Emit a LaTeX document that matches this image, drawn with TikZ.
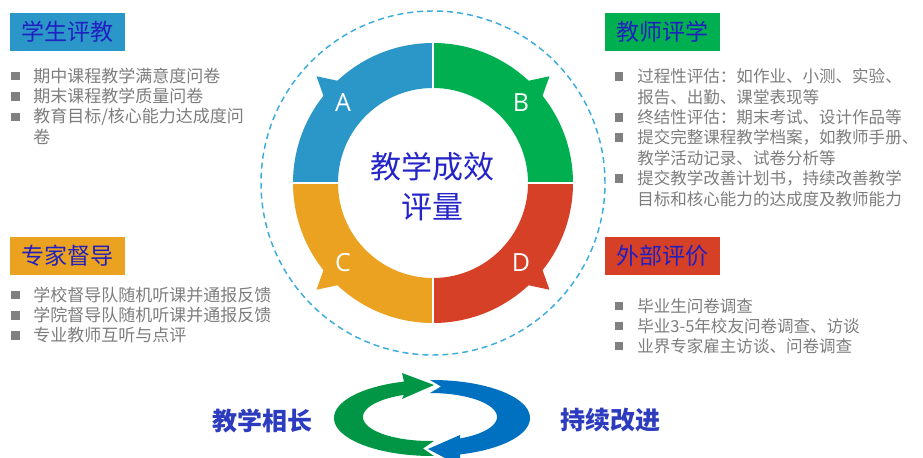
\documentclass[tikz,border=0pt]{standalone}
\usepackage{fontspec}
\setmainfont{Noto Sans CJK SC}
\newfontfamily\latinsans{Open Sans}
\usetikzlibrary{calc}
\definecolor{segA}{RGB}{43,150,200}
\definecolor{segB}{RGB}{0,176,80}
\definecolor{segC}{RGB}{234,162,32}
\definecolor{segD}{RGB}{214,64,38}
\definecolor{hdrtext}{RGB}{32,32,192}
\definecolor{ctrtext}{RGB}{36,36,200}
\definecolor{txtgray}{RGB}{125,125,125}
\definecolor{bulgray}{RGB}{128,128,128}
\definecolor{dashcol}{RGB}{60,172,222}
\definecolor{cycgreen}{RGB}{0,150,70}
\definecolor{cycblue}{RGB}{0,112,192}
\definecolor{bottext}{RGB}{45,60,190}
\tikzset{
  hdr/.style={minimum width=86.25pt, minimum height=28.5pt, inner sep=0pt,
    text=hdrtext, font=\fontsize{17.25pt}{20pt}\selectfont},
  itemtxt/.style={anchor=west, inner sep=0pt, text=txtgray,
    font=\fontsize{12.75pt}{15pt}\selectfont},
  itemtxtr/.style={itemtxt, font=\fontsize{12.4pt}{15pt}\selectfont},
  bul/.style={fill=bulgray, minimum size=6.5pt, inner sep=0pt},
  letter/.style={text=white, font=\latinsans\fontsize{18.75pt}{22pt}\selectfont},
  bottxt/.style={text=bottext, font=\fontsize{18.75pt}{22pt}\selectfont\bfseries}
}
\begin{document}
\begin{tikzpicture}[x=0.75pt,y=0.75pt]
\useasboundingbox (0,0) rectangle (923,457);
\coordinate (c) at (433,274);
% dashed circle
\draw[dashcol, line width=1.1pt, dash pattern=on 4.5pt off 3pt] (c) circle[radius=172];
% ring segments
\fill[segB] ($(c)+(0:140)$) arc[start angle=0, end angle=90, radius=140]
  -- ($(c)+(90:95)$) arc[start angle=90, end angle=0, radius=95] -- cycle;
\fill[segA] ($(c)+(90:140)$) arc[start angle=90, end angle=180, radius=140]
  -- ($(c)+(180:95)$) arc[start angle=180, end angle=90, radius=95] -- cycle;
\fill[segC] ($(c)+(180:140)$) arc[start angle=180, end angle=270, radius=140]
  -- ($(c)+(270:95)$) arc[start angle=270, end angle=180, radius=95] -- cycle;
\fill[segD] ($(c)+(270:140)$) arc[start angle=270, end angle=360, radius=140]
  -- ($(c)+(0:95)$) arc[start angle=360, end angle=270, radius=95] -- cycle;
% barbs
\fill[segA] ($(c)+(132.5:138)$) -- ($(c)+(137.5:158)$) -- ($(c)+(142:138)$) -- cycle;
\fill[segB] ($(c)+(47.5:138)$) -- ($(c)+(42.5:158)$) -- ($(c)+(38:138)$) -- cycle;
\fill[segC] ($(c)+(-132.5:138)$) -- ($(c)+(-137.5:158)$) -- ($(c)+(-142:138)$) -- cycle;
\fill[segD] ($(c)+(-47.5:138)$) -- ($(c)+(-42.5:158)$) -- ($(c)+(-38:138)$) -- cycle;
% separators
\foreach \a in {0,90,180,270}
  \draw[white, line width=1.6pt] ($(c)+(\a:90)$) -- ($(c)+(\a:145)$);
% letters
\node[letter] (la) at (343,354) {A};
\node[letter] (lb) at (521,354) {B};
\node[letter] (lc) at (343,194) {C};
\node[letter] (ld) at (521,194) {D};
% centre text
\node[text=ctrtext, align=center, inner sep=0pt,
  font=\fontsize{23.25pt}{30pt}\selectfont] (ctr) at (432,270) {教学成效\\评量};
% headers
\node[hdr, fill=segA] (h1) at (67.5,425) {学生评教};
\node[hdr, fill=segB] (h2) at (662.5,425) {教师评学};
\node[hdr, fill=segC] (h3) at (67.5,201) {专家督导};
\node[hdr, fill=segD] (h4) at (662,201) {外部评价};
% left top items
\node[bul] (b11) at (15.5,381) {};
\node[itemtxt] (t11) at (33,381) {期中课程教学满意度问卷};
\node[bul] (b12) at (15.5,360.5) {};
\node[itemtxt] (t12) at (33,360.5) {期末课程教学质量问卷};
\node[bul] (b13) at (15.5,340) {};
\node[itemtxt] (t13) at (33,340) {教育目标/核心能力达成度问};
\node[itemtxt] (t13b) at (33,320) {卷};
% right top items
\node[bul] (b21) at (619,380.5) {};
\node[itemtxtr] (t21) at (637,380.5) {过程性评估：如作业、小测、实验、};
\node[itemtxtr] (t21b) at (637,360.1) {报告、出勤、课堂表现等};
\node[bul] (b22) at (619,339.7) {};
\node[itemtxtr] (t22) at (637,339.7) {终结性评估：期末考试、设计作品等};
\node[bul] (b23) at (619,319.3) {};
\node[itemtxtr] (t23) at (637,319.3) {提交完整课程教学档案，如教师手册、};
\node[itemtxtr] (t23b) at (637,298.9) {教学活动记录、试卷分析等};
\node[bul] (b24) at (619,278.5) {};
\node[itemtxtr] (t24) at (637,278.5) {提交教学改善计划书，持续改善教学};
\node[itemtxtr] (t24b) at (637,258.1) {目标和核心能力的达成度及教师能力};
% left bottom items
\node[bul] (b31) at (15.5,162) {};
\node[itemtxt] (t31) at (33,162) {学校督导队随机听课并通报反馈};
\node[bul] (b32) at (15.5,141.5) {};
\node[itemtxt] (t32) at (33,141.5) {学院督导队随机听课并通报反馈};
\node[bul] (b33) at (15.5,121.5) {};
\node[itemtxt] (t33) at (33,121.5) {专业教师互听与点评};
% right bottom items
\node[bul] (b41) at (619,151) {};
\node[itemtxtr] (t41) at (637,151) {毕业生问卷调查};
\node[bul] (b42) at (619,131) {};
\node[itemtxtr] (t42) at (637,131) {毕业3-5年校友问卷调查、访谈};
\node[bul] (b43) at (619,111) {};
\node[itemtxtr] (t43) at (637,111) {业界专家雇主访谈、问卷调查};
% cycle arrows
\fill[cycgreen] (404,75.4)
  -- plot[domain=106.6:271.2, samples=60, variable=\t] ({432+98*cos(\t)},{39+38*sin(\t)})
  -- (423,8.5)
  -- plot[domain=273.4:112.8, samples=60, variable=\t] ({430+67*cos(\t)},{40+24*sin(\t)})
  -- (402,58) -- (434,72) -- (402,84) -- cycle;
\fill[cycblue] (430,77)
  -- plot[domain=91.2:-73.4, samples=60, variable=\t] ({432+98*cos(\t)},{39+38*sin(\t)})
  -- (460,-9) -- (428,8) -- (460,22)
  -- plot[domain=-63.4:90, samples=60, variable=\t] ({430+67*cos(\t)},{40+24*sin(\t)})
  -- (441,70.5) -- cycle;
% bottom texts
\node[bottxt] (bl) at (262,36.5) {教学相长};
\node[bottxt] (br) at (610,37) {持续改进};
\end{tikzpicture}
\end{document}
